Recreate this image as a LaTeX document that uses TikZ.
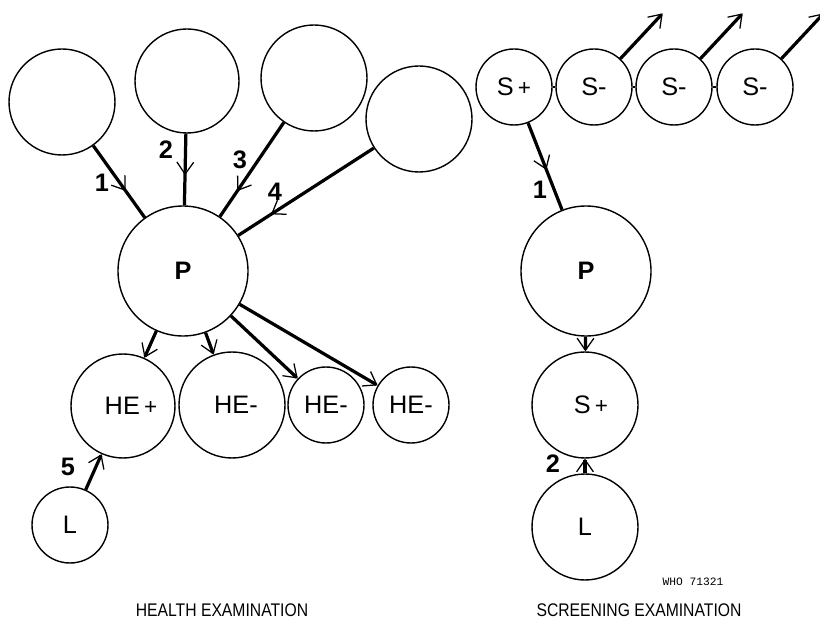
\documentclass[tikz,border=0pt]{standalone}
\usepackage{fontspec}
\setmainfont{Liberation Sans}
\setmonofont{Liberation Mono}
\usetikzlibrary{arrows.meta,decorations.markings}
\newcommand{\pl}{\,{\fontsize{16}{17}\selectfont+}}
\tikzset{
  disc/.style={circle,draw=black,line width=1pt,inner sep=0pt,font=\fontsize{18}{20}\selectfont},
  bigdisc/.style={disc,minimum size=2.65cm},
  pdisc/.style={disc,minimum size=3.25cm},
  smalldisc/.style={disc,minimum size=1.9cm},
  link/.style={line width=2.3pt,draw=black},
  barb/.style={-{Straight Barb[length=3mm,width=4.2mm,line width=0.9pt]}},
  midbarb/.style={postaction={decorate},decoration={markings,mark=at position #1 with {\arrow{Straight Barb[length=3mm,width=4.2mm,line width=0.9pt]}}}},
  num/.style={font=\fontsize{18}{20}\selectfont\bfseries},
  caption/.style={font=\fontsize{13}{15}\selectfont,xscale=0.86}
}

\begin{document}
\begin{tikzpicture}[x=1cm,y=1cm]
  \useasboundingbox (0,0) rectangle (20.5,15.525);

  % health examination
  \node[bigdisc] (h1) at (1.55,12.975) {};
  \node[bigdisc,minimum size=2.6cm] (h2) at (4.675,13.5) {};
  \node[bigdisc] (h3) at (7.85,13.575) {};
  \node[bigdisc] (h4) at (10.475,12.55) {};
  \node[pdisc] (hp) at (4.575,8.75) {\textbf{P}};

  \node[bigdisc,minimum size=2.6cm] (hepos) at (3.075,5.375) {\hspace{0.4cm}HE\pl};
  \node[bigdisc] (hea) at (5.8,5.4) {\hspace{0.2cm}HE-};
  \node[smalldisc] (heb) at (8.15,5.4) {HE-};
  \node[smalldisc] (hec) at (10.275,5.4) {HE-};
  \node[smalldisc] (hl) at (1.75,2.4) {L};

  \draw[link,midbarb=0.63] (h1) -- (hp);
  \draw[link,midbarb=0.58] (h2) -- (hp);
  \draw[link,midbarb=0.73] (h3) -- (hp);
  \draw[link,midbarb=0.76] (h4) -- (hp);
  \draw[link,barb] (hp) -- (hepos);
  \draw[link,barb] (hp) -- (hea);
  \draw[link,barb] (hp) -- (heb);
  \draw[link,barb] (hp) -- (hec);
  \draw[link,barb] (hl) -- (hepos);

  \node[num] (n1) at (2.55,10.95) {1};
  \node[num] (n2) at (4.15,11.775) {2};
  \node[num] (n3) at (6.0,11.525) {3};
  \node[num] (n4) at (6.875,10.725) {4};
  \node[num] (n5) at (1.7,3.85) {5};

  \node[caption] (hcap) at (5.55,0.26) {HEALTH EXAMINATION};

  % screening examination
  \node[smalldisc] (sp) at (12.85,13.35) {S\pl};
  \node[smalldisc] (sm1) at (14.85,13.35) {S-};
  \node[smalldisc] (sm2) at (16.85,13.35) {S-};
  \node[smalldisc] (sm3) at (18.875,13.35) {S-};
  \draw[line width=1.5pt] (sp) -- (sm1) (sm1) -- (sm2) (sm2) -- (sm3);

  \foreach \s in {sm1,sm2,sm3} {
    \coordinate (\s out) at ([shift={(47:1.55)}]\s.47);
    \draw[link,barb] (\s.47) -- (\s out);
  }

  \node[pdisc] (sq) at (14.65,8.75) {\textbf{P}};
  \node[bigdisc] (spos) at (14.625,5.4) {\hspace{0.3cm}S\pl};
  \node[bigdisc] (sl) at (14.625,2.35) {L};

  \draw[link,midbarb=0.54] (sp) -- (sq);
  \draw[link,barb] (sq) -- (spos);
  \draw[link,barb] (sl) -- (spos);

  \node[num] (m1) at (13.5,10.775) {1};
  \node[num] (m2) at (13.825,3.925) {2};

  \node[font=\fontsize{8}{9}\selectfont\ttfamily] (who) at (17.325,0.975) {WHO 71321};
  \node[caption] (scap) at (15.975,0.26) {SCREENING EXAMINATION};
\end{tikzpicture}
\end{document}
